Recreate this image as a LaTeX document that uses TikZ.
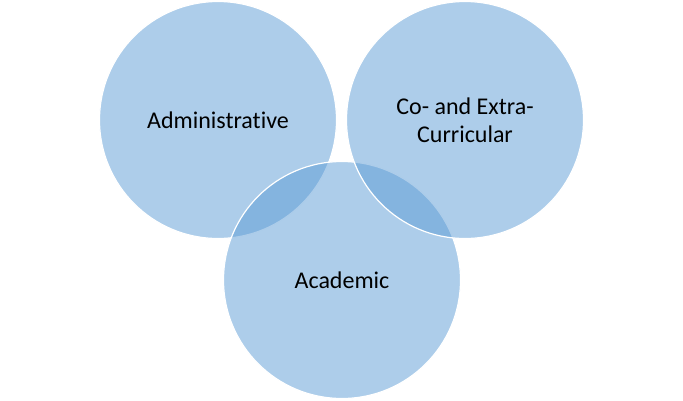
\documentclass[tikz,border=0pt]{standalone}
\usepackage{fontspec}
\setmainfont{Carlito}[Ligatures={NoCommon,NoDiscretionary}]
\definecolor{accentblue}{RGB}{91,155,213}
\tikzset{
  venn/.style={circle, minimum size=237pt, inner sep=0pt, fill=accentblue, fill opacity=0.5, draw=white, line width=1.2pt, text opacity=1, text=black, font=\fontsize{24}{28}\selectfont, align=center}
}
\begin{document}
\begin{tikzpicture}[x=1pt,y=-1pt]
\useasboundingbox (0,0) rectangle (683,400);
\node[venn] (admin) at (218,120) {Administrative};
\node[venn] (acad) at (342,280) {Academic};
\node[venn] (coextra) at (465,120) {Co- and Extra-\\Curricular};
\end{tikzpicture}
\end{document}
